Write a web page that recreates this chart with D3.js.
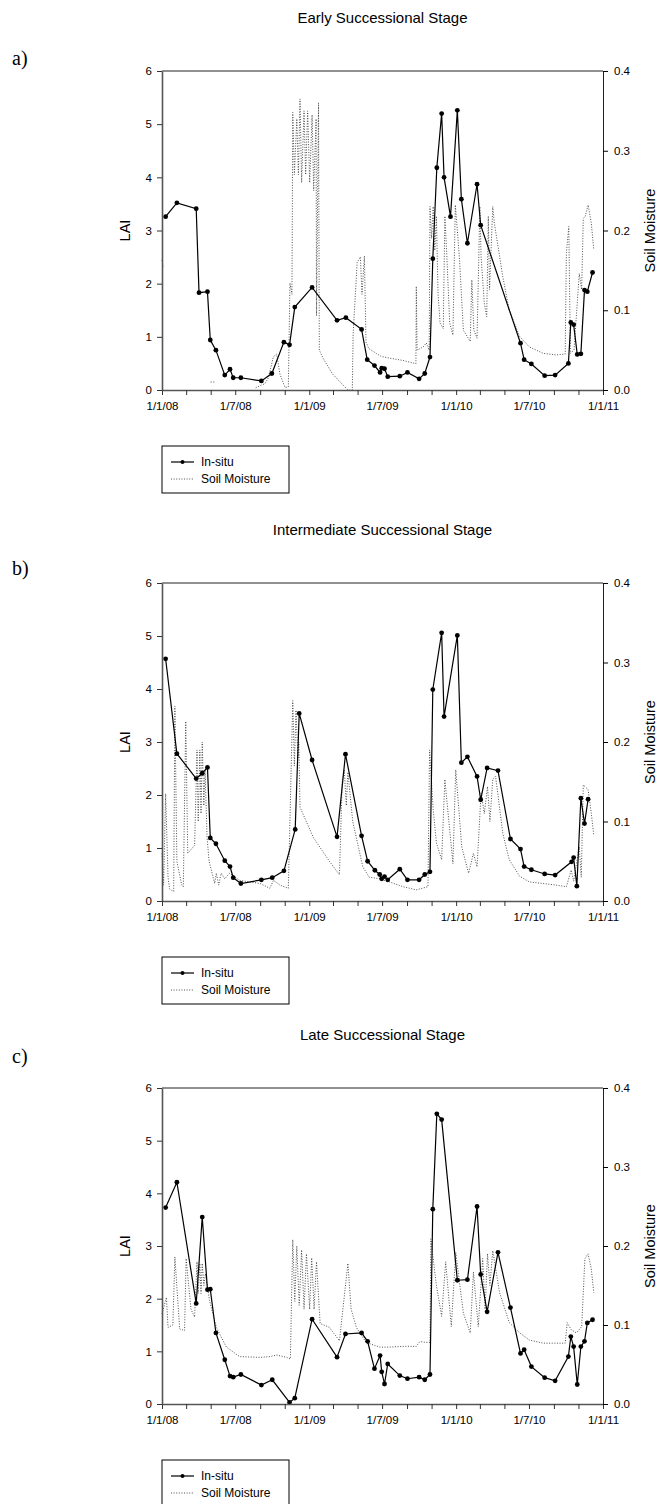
<!DOCTYPE html>
<html>
<head>
<meta charset="utf-8">
<script src="https://cdn.jsdelivr.net/npm/d3@7"></script>
<style>
body { margin: 0; background: #fff; }
text { font-family: "Liberation Sans", Arial, sans-serif; fill: #000; }
</style>
</head>
<body>
<svg id="chart" width="660" height="1504"></svg>
<script>

var panelTitles = ["Early Successional Stage", "Intermediate Successional Stage", "Late Successional Stage"];
var panelLabels = ["a)", "b)", "c)"];
var laiTicks = [0, 1, 2, 3, 4, 5, 6];
var smTicks = [0.0, 0.1, 0.2, 0.3, 0.4];
var legendLabels = ["In-situ", "Soil Moisture"];

// in-situ LAI, [date, LAI]
var earlyInsitu = [["2008-01-10",3.26],["2008-02-07",3.52],["2008-03-26",3.41],["2008-04-02",1.83],["2008-04-23",1.85],["2008-04-30",0.94],["2008-05-14",0.75],["2008-06-05",0.28],["2008-06-18",0.39],["2008-06-26",0.23],["2008-07-15",0.23],["2008-09-04",0.17],["2008-09-30",0.31],["2008-10-30",0.90],["2008-11-13",0.85],["2008-11-26",1.56],["2009-01-08",1.93],["2009-03-11",1.31],["2009-04-02",1.36],["2009-05-11",1.14],["2009-05-25",0.57],["2009-06-12",0.46],["2009-06-26",0.33],["2009-06-30",0.41],["2009-07-07",0.40],["2009-07-15",0.25],["2009-08-14",0.26],["2009-09-02",0.33],["2009-10-01",0.21],["2009-10-15",0.31],["2009-10-28",0.62],["2009-11-04",2.47],["2009-11-14",4.18],["2009-11-26",5.20],["2009-12-02",4.00],["2009-12-18",3.26],["2010-01-04",5.26],["2010-01-14",3.59],["2010-01-29",2.76],["2010-02-22",3.87],["2010-03-03",3.10],["2010-06-10",0.88],["2010-06-19",0.57],["2010-07-07",0.49],["2010-08-09",0.27],["2010-09-04",0.28],["2010-10-07",0.50],["2010-10-13",1.27],["2010-10-20",1.23],["2010-10-29",0.67],["2010-11-07",0.68],["2010-11-16",1.88],["2010-11-23",1.85],["2010-12-06",2.21]];

var intermediateInsitu = [["2008-01-10",4.57],["2008-02-07",2.78],["2008-03-26",2.31],["2008-04-10",2.41],["2008-04-23",2.52],["2008-04-30",1.19],["2008-05-14",1.08],["2008-06-05",0.76],["2008-06-18",0.65],["2008-06-26",0.44],["2008-07-15",0.33],["2008-09-04",0.40],["2008-10-01",0.44],["2008-10-30",0.57],["2008-11-27",1.35],["2008-12-07",3.54],["2009-01-08",2.66],["2009-03-11",1.21],["2009-04-01",2.77],["2009-05-11",1.23],["2009-05-26",0.75],["2009-06-13",0.58],["2009-06-25",0.50],["2009-06-30",0.42],["2009-07-07",0.46],["2009-07-15",0.40],["2009-08-14",0.60],["2009-09-02",0.40],["2009-10-01",0.40],["2009-10-15",0.50],["2009-10-28",0.55],["2009-11-04",3.99],["2009-11-26",5.06],["2009-12-02",3.48],["2010-01-04",5.01],["2010-01-14",2.61],["2010-01-29",2.72],["2010-02-22",2.35],["2010-03-03",1.91],["2010-03-19",2.51],["2010-04-15",2.46],["2010-05-16",1.17],["2010-06-10",0.98],["2010-06-19",0.65],["2010-07-07",0.59],["2010-08-09",0.51],["2010-09-04",0.49],["2010-10-15",0.74],["2010-10-20",0.82],["2010-10-28",0.28],["2010-11-07",1.94],["2010-11-16",1.46],["2010-11-25",1.92]];

var lateInsitu = [["2008-01-10",3.73],["2008-02-07",4.21],["2008-03-26",1.91],["2008-04-10",3.55],["2008-04-23",2.17],["2008-04-30",2.18],["2008-05-14",1.35],["2008-06-05",0.84],["2008-06-18",0.53],["2008-06-26",0.51],["2008-07-15",0.56],["2008-09-04",0.36],["2008-10-01",0.46],["2008-11-13",0.03],["2008-11-26",0.11],["2009-01-08",1.61],["2009-03-11",0.89],["2009-04-01",1.33],["2009-05-11",1.35],["2009-05-26",1.19],["2009-06-12",0.67],["2009-06-26",0.92],["2009-06-30",0.61],["2009-07-07",0.38],["2009-07-15",0.76],["2009-08-14",0.54],["2009-09-02",0.48],["2009-10-01",0.51],["2009-10-15",0.46],["2009-10-28",0.56],["2009-11-04",3.70],["2009-11-14",5.51],["2009-11-26",5.40],["2010-01-04",2.35],["2010-01-29",2.36],["2010-02-22",3.75],["2010-03-03",2.46],["2010-03-19",1.75],["2010-04-15",2.88],["2010-05-16",1.83],["2010-06-10",0.96],["2010-06-19",1.03],["2010-07-07",0.71],["2010-08-09",0.50],["2010-09-04",0.44],["2010-10-07",0.90],["2010-10-13",1.28],["2010-10-20",1.09],["2010-10-29",0.37],["2010-11-07",1.09],["2010-11-16",1.19],["2010-11-23",1.54],["2010-12-06",1.60]];

// soil moisture, [date, value]; null = gap in the record
var earlySoil = [["2008-01-01",0.163],["2008-01-04",0.153],null,
  ["2008-05-01",0.010],["2008-05-12",0.010],null,
  ["2008-08-21",0.003],["2008-09-13",0.008],["2008-09-21",0.015],["2008-10-04",0.042],["2008-10-12",0.045],["2008-10-20",0.020],["2008-11-02",0.003],["2008-11-10",0.004],["2008-11-14",0.134],["2008-11-19",0.120],["2008-11-21",0.348],["2008-11-25",0.270],["2008-12-01",0.340],["2008-12-05",0.270],["2008-12-09",0.365],["2008-12-13",0.260],["2008-12-19",0.350],["2008-12-23",0.270],["2008-12-28",0.350],["2009-01-02",0.260],["2009-01-08",0.345],["2009-01-12",0.250],["2009-01-18",0.340],["2009-01-19",0.093],["2009-01-24",0.360],["2009-01-26",0.050],["2009-02-04",0.040],["2009-02-28",0.020],["2009-04-03",0.002],["2009-04-07",0.000],["2009-04-18",0.000],["2009-04-20",0.070],["2009-04-30",0.160],["2009-05-08",0.167],["2009-05-12",0.120],["2009-05-18",0.168],["2009-05-22",0.060],["2009-05-29",0.052],["2009-06-16",0.046],["2009-06-29",0.042],["2009-07-19",0.040],["2009-08-22",0.037],["2009-09-23",0.033],["2009-09-24",0.130],["2009-09-26",0.050],["2009-10-11",0.054],["2009-10-19",0.059],["2009-10-26",0.050],["2009-10-28",0.230],["2009-11-01",0.190],["2009-11-05",0.230],["2009-11-09",0.175],["2009-11-13",0.218],["2009-11-17",0.121],["2009-11-22",0.084],["2009-11-30",0.077],["2009-12-04",0.218],["2009-12-09",0.167],["2009-12-16",0.084],["2009-12-24",0.069],["2009-12-30",0.232],["2010-01-04",0.200],["2010-01-09",0.167],["2010-01-19",0.075],["2010-02-05",0.061],["2010-02-09",0.138],["2010-02-14",0.075],["2010-02-22",0.065],["2010-03-01",0.230],["2010-03-04",0.167],["2010-03-12",0.109],["2010-03-18",0.092],["2010-03-22",0.218],["2010-03-25",0.126],["2010-04-02",0.230],["2010-04-06",0.209],["2010-04-27",0.142],["2010-05-13",0.100],["2010-06-08",0.067],["2010-07-02",0.054],["2010-08-05",0.046],["2010-09-07",0.044],["2010-09-29",0.045],["2010-10-02",0.172],["2010-10-08",0.205],["2010-10-12",0.046],["2010-10-21",0.050],["2010-11-03",0.146],["2010-11-09",0.126],["2010-11-13",0.215],["2010-11-18",0.218],["2010-11-25",0.232],["2010-12-03",0.209],["2010-12-09",0.176]];

var intermediateSoil = [["2008-01-01",0.060],["2008-01-05",0.020],["2008-01-10",0.135],["2008-01-16",0.030],["2008-01-20",0.015],["2008-01-30",0.012],["2008-02-02",0.245],["2008-02-07",0.050],["2008-02-19",0.020],["2008-02-23",0.018],["2008-02-29",0.226],["2008-03-05",0.060],["2008-03-22",0.070],["2008-03-28",0.190],["2008-03-31",0.100],["2008-04-04",0.190],["2008-04-07",0.110],["2008-04-10",0.200],["2008-04-14",0.120],["2008-04-17",0.165],["2008-04-22",0.080],["2008-04-27",0.050],["2008-05-11",0.022],["2008-05-15",0.035],["2008-05-21",0.020],["2008-05-27",0.035],["2008-06-05",0.028],["2008-06-17",0.035],["2008-07-12",0.026],["2008-08-06",0.024],["2008-09-01",0.022],["2008-09-25",0.016],["2008-10-04",0.026],["2008-10-20",0.020],["2008-11-10",0.016],["2008-11-21",0.252],["2008-11-25",0.170],["2008-11-29",0.240],["2008-12-04",0.180],["2008-12-06",0.200],["2008-12-09",0.118],["2009-01-11",0.080],["2009-02-20",0.050],["2009-03-17",0.033],["2009-03-24",0.152],["2009-03-29",0.165],["2009-04-03",0.120],["2009-04-07",0.162],["2009-04-19",0.100],["2009-05-14",0.043],["2009-05-30",0.030],["2009-06-25",0.028],["2009-07-19",0.024],["2009-08-22",0.018],["2009-09-24",0.014],["2009-10-23",0.018],["2009-10-27",0.190],["2009-11-05",0.115],["2009-11-13",0.073],["2009-11-26",0.052],["2009-12-04",0.153],["2009-12-24",0.047],["2009-12-31",0.165],["2010-01-15",0.068],["2010-02-01",0.035],["2010-02-13",0.060],["2010-02-22",0.043],["2010-03-04",0.136],["2010-03-12",0.110],["2010-03-20",0.144],["2010-03-26",0.100],["2010-04-02",0.153],["2010-04-09",0.157],["2010-04-27",0.085],["2010-05-13",0.052],["2010-06-08",0.031],["2010-07-02",0.024],["2010-08-05",0.022],["2010-09-07",0.020],["2010-10-02",0.018],["2010-10-14",0.039],["2010-10-20",0.025],["2010-11-03",0.068],["2010-11-08",0.030],["2010-11-13",0.146],["2010-11-25",0.140],["2010-12-03",0.110],["2010-12-09",0.083]];

var lateSoil = [["2008-01-01",0.114],["2008-01-12",0.135],["2008-01-16",0.097],["2008-01-28",0.100],["2008-02-02",0.186],["2008-02-14",0.095],["2008-02-26",0.093],["2008-03-01",0.184],["2008-03-13",0.120],["2008-03-22",0.110],["2008-03-28",0.180],["2008-03-31",0.140],["2008-04-04",0.178],["2008-04-07",0.140],["2008-04-10",0.178],["2008-04-14",0.150],["2008-04-18",0.165],["2008-04-28",0.131],["2008-05-15",0.097],["2008-06-09",0.072],["2008-07-12",0.060],["2008-09-01",0.059],["2008-09-25",0.060],["2008-10-12",0.062],["2008-11-06",0.059],["2008-11-15",0.057],["2008-11-21",0.208],["2008-11-26",0.130],["2008-12-01",0.200],["2008-12-07",0.125],["2008-12-13",0.195],["2008-12-19",0.120],["2008-12-25",0.190],["2009-01-02",0.120],["2009-01-07",0.185],["2009-01-13",0.120],["2009-01-19",0.180],["2009-01-28",0.102],["2009-02-20",0.097],["2009-03-17",0.080],["2009-04-07",0.178],["2009-04-15",0.120],["2009-04-28",0.097],["2009-05-22",0.078],["2009-06-25",0.072],["2009-07-19",0.072],["2009-08-22",0.073],["2009-09-24",0.073],["2009-10-03",0.079],["2009-10-19",0.078],["2009-10-28",0.078],["2009-10-30",0.209],["2009-11-13",0.150],["2009-11-26",0.111],["2009-12-06",0.180],["2009-12-20",0.098],["2009-12-31",0.192],["2010-01-19",0.115],["2010-02-05",0.090],["2010-02-13",0.167],["2010-02-25",0.098],["2010-03-08",0.184],["2010-03-14",0.120],["2010-03-20",0.190],["2010-03-26",0.150],["2010-04-02",0.194],["2010-04-19",0.141],["2010-05-13",0.103],["2010-06-08",0.090],["2010-07-02",0.081],["2010-08-05",0.077],["2010-09-29",0.077],["2010-10-04",0.103],["2010-10-14",0.094],["2010-10-27",0.090],["2010-11-09",0.098],["2010-11-17",0.184],["2010-11-25",0.190],["2010-12-03",0.171],["2010-12-09",0.141]];

var insituSets = [earlyInsitu, intermediateInsitu, lateInsitu];
var soilSets = [earlySoil, intermediateSoil, lateSoil];

// layout
var left = 162, right = 603;
var tops = [71, 583, 1088];
var bottoms = [390, 901, 1404];
var labelYs = [65, 575, 1063];

var parse = d3.timeParse("%Y-%m-%d");
var svg = d3.select("#chart");

var x = d3.scaleTime()
    .domain([parse("2008-01-01"), parse("2011-01-01")])
    .range([left, right]);

var dateLabel = function (d) {
    if (d.getMonth() % 6 !== 0) return "";
    return d.getDate() + "/" + (d.getMonth() + 1) + "/" + d3.timeFormat("%y")(d);
};

panelTitles.forEach(function (title, i) {
    var top = tops[i], bottom = bottoms[i];
    var yL = d3.scaleLinear().domain([0, 6]).range([bottom, top]);
    var yR = d3.scaleLinear().domain([0, 0.4]).range([bottom, top]);
    var g = svg.append('g');

    g.append('text')
        .attr('x', (left + right) / 2)
        .attr('y', top - 48)
        .attr('text-anchor', 'middle')
        .style('font-size', '15px')
        .text(title);

    g.append('text')
        .attr('x', 12)
        .attr('y', labelYs[i])
        .style('font-family', '"Liberation Serif", "Times New Roman", serif')
        .style('font-size', '20px')
        .text(panelLabels[i]);

    // soil moisture (dotted)
    var smLine = d3.line()
        .defined(d => d !== null)
        .x(d => x(parse(d[0])))
        .y(d => yR(d[1]));
    g.append('path')
        .datum(soilSets[i])
        .attr('d', smLine)
        .attr('fill', 'none')
        .attr('stroke', '#3a3a3a')
        .attr('stroke-width', 0.9)
        .attr('stroke-dasharray', '1,1.6');

    // in-situ LAI
    var laiLine = d3.line()
        .x(d => x(parse(d[0])))
        .y(d => yL(d[1]));
    g.append('path')
        .datum(insituSets[i])
        .attr('d', laiLine)
        .attr('fill', 'none')
        .attr('stroke', '#000')
        .attr('stroke-width', 1.2);
    g.selectAll('dots')
        .data(insituSets[i])
        .enter()
        .append('circle')
        .attr('cx', d => x(parse(d[0])))
        .attr('cy', d => yL(d[1]))
        .attr('r', 2.4)
        .attr('fill', '#000');

    // frame top
    g.append('line').attr('x1', left).attr('x2', right).attr('y1', top).attr('y2', top)
        .attr('stroke', '#222').attr('stroke-width', 1);

    // axes
    var xAxis = g.append('g')
        .attr('transform', 'translate(0,' + bottom + ')')
        .call(d3.axisBottom(x).ticks(d3.timeMonth.every(2)).tickSize(5).tickSizeOuter(0).tickPadding(7).tickFormat(dateLabel));
    var lAxis = g.append('g')
        .attr('transform', 'translate(' + left + ',0)')
        .call(d3.axisLeft(yL).tickValues(laiTicks).tickSize(5).tickSizeOuter(0).tickPadding(5).tickFormat(d3.format('d')));
    var rAxis = g.append('g')
        .attr('transform', 'translate(' + right + ',0)')
        .call(d3.axisRight(yR).tickValues(smTicks).tickSize(5).tickSizeOuter(0).tickPadding(6).tickFormat(d3.format('.1f')));

    [xAxis, lAxis].forEach(function (a) {
        a.select('.domain').attr('stroke', '#555').attr('stroke-width', 1.6);
        a.selectAll('.tick line').attr('stroke', '#333');
    });
    rAxis.select('.domain').attr('stroke', '#222').attr('stroke-width', 1);
    [xAxis, lAxis, rAxis].forEach(function (a) {
        a.selectAll('text').style('font-family', '"Liberation Sans", Arial, sans-serif').style('font-size', '11.5px').attr('fill', '#000');
    });

    g.append('text')
        .attr('transform', 'translate(130,' + ((top + bottom) / 2) + ') rotate(-90)')
        .attr('text-anchor', 'middle')
        .style('font-size', '14.5px')
        .text('LAI');
    g.append('text')
        .attr('transform', 'translate(655,' + ((top + bottom) / 2) + ') rotate(-90)')
        .attr('text-anchor', 'middle')
        .style('font-size', '14.5px')
        .text('Soil Moisture');

    // legend
    var ly = bottom + 56;
    var legend = g.append('g').attr('transform', 'translate(' + left + ',' + ly + ')');
    legend.append('rect')
        .attr('x', 0).attr('y', 0).attr('width', 127).attr('height', 47)
        .attr('fill', 'none').attr('stroke', '#000').attr('stroke-width', 1);
    legend.append('line').attr('x1', 9).attr('x2', 32).attr('y1', 16).attr('y2', 16)
        .attr('stroke', '#000').attr('stroke-width', 1.2);
    legend.append('circle').attr('cx', 20.5).attr('cy', 16).attr('r', 2).attr('fill', '#000');
    legend.append('line').attr('x1', 9).attr('x2', 32).attr('y1', 33).attr('y2', 33)
        .attr('stroke', '#3a3a3a').attr('stroke-width', 0.9).attr('stroke-dasharray', '1,1.6');
    legend.selectAll('labels')
        .data(legendLabels)
        .enter()
        .append('text')
        .attr('x', 39)
        .attr('y', (d, k) => 16 + k * 17)
        .attr('dy', '0.35em')
        .style('font-size', '12px')
        .text(d => d);
});
</script>
</body>
</html>
